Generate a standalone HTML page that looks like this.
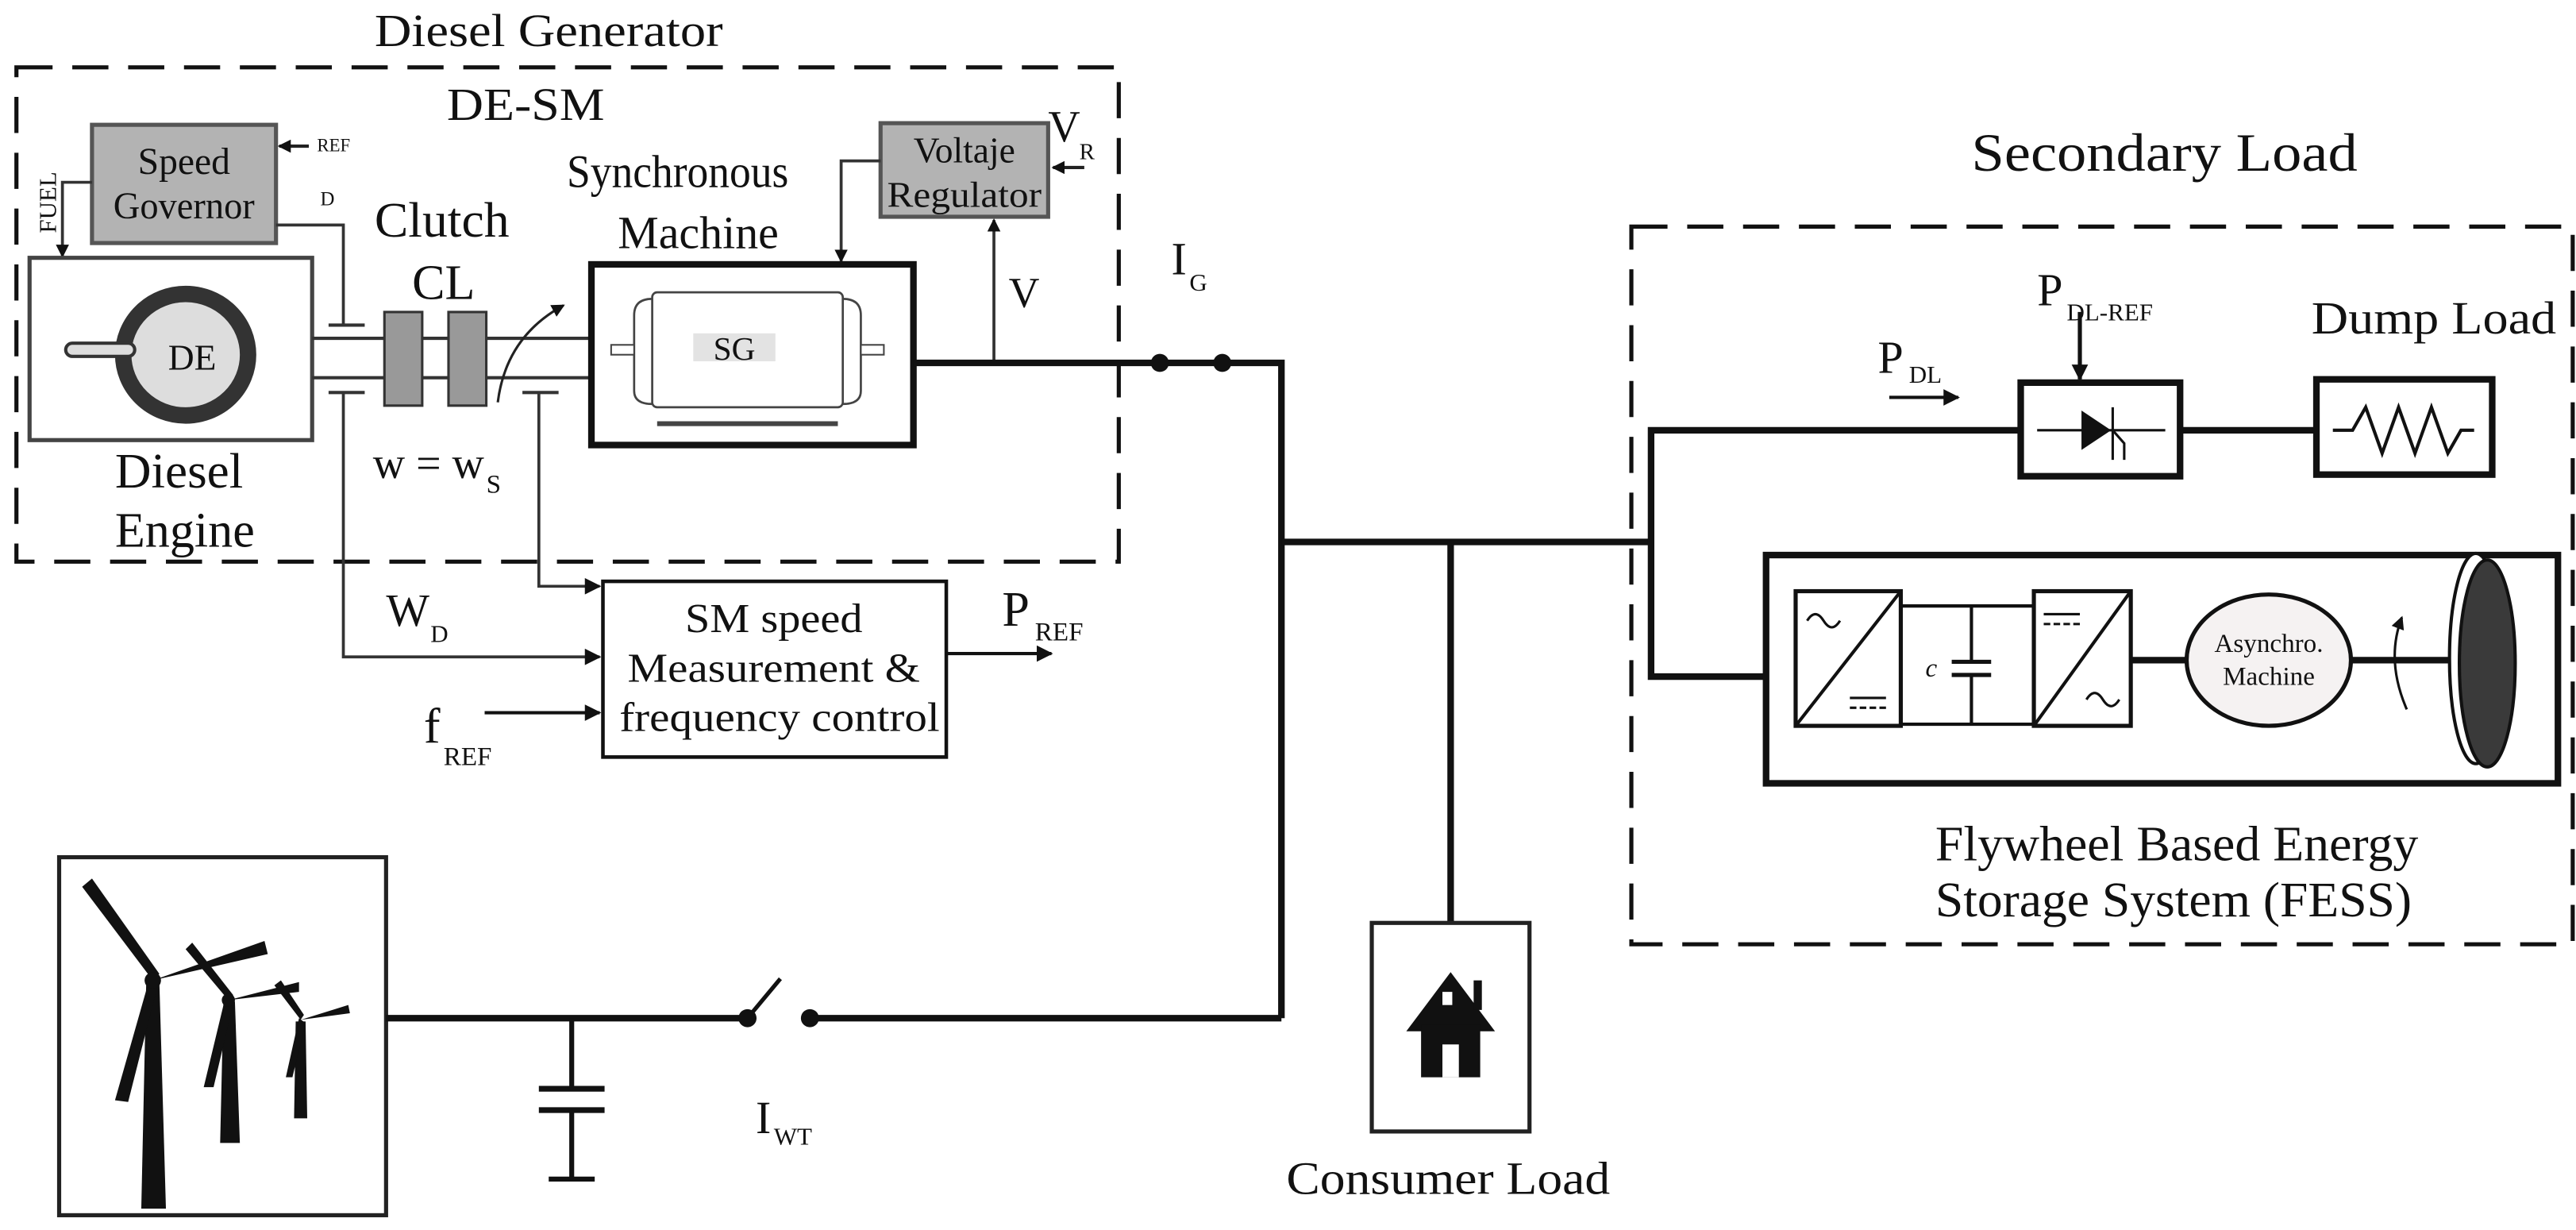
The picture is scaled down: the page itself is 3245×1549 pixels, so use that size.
<!DOCTYPE html>
<html><head><meta charset="utf-8"><style>
html,body{margin:0;padding:0;background:#fff}
svg{display:block}
text{font-family:"Liberation Serif",serif;fill:#111}
</style></head><body>
<svg width="3245" height="1549" viewBox="0 0 1568 749" preserveAspectRatio="none" xmlns="http://www.w3.org/2000/svg">
<defs>
<marker id="a" markerWidth="8" markerHeight="8" refX="7" refY="4" orient="auto" markerUnits="userSpaceOnUse"><path d="M0,0 L8,4 L0,8 Z" fill="#111"/></marker>
<marker id="b" markerWidth="10" markerHeight="10" refX="9" refY="5" orient="auto" markerUnits="userSpaceOnUse"><path d="M0,0 L10,5 L0,10 Z" fill="#111"/></marker>
</defs>
<!-- dashed boxes -->
<rect x="10" y="41" width="671" height="301" fill="none" stroke="#111" stroke-width="2.5" stroke-dasharray="22 12"/>
<rect x="993" y="138" width="573" height="437" fill="none" stroke="#111" stroke-width="2.5" stroke-dasharray="22 12"/>
<text x="228" y="28" font-size="28" textLength="212" lengthAdjust="spacingAndGlyphs">Diesel Generator</text>
<text x="272" y="73" font-size="28" textLength="96" lengthAdjust="spacingAndGlyphs">DE-SM</text>
<text x="1200" y="104" font-size="33" textLength="235" lengthAdjust="spacingAndGlyphs">Secondary Load</text>

<!-- speed governor -->
<rect x="56" y="76" width="112" height="72" fill="#b3b3b3" stroke="#555" stroke-width="2.5"/>
<text x="112" y="106" font-size="23" text-anchor="middle">Speed</text>
<text x="69" y="133" font-size="23" textLength="86" lengthAdjust="spacingAndGlyphs">Governor</text>
<text x="193" y="92" font-size="11">REF</text>
<line x1="188" y1="89" x2="170" y2="89" stroke="#222" stroke-width="2" marker-end="url(#a)"/>
<text x="195" y="125" font-size="12">D</text>
<polyline points="168,137 209,137 209,198" fill="none" stroke="#333" stroke-width="1.8"/>
<line x1="200" y1="198" x2="222" y2="198" stroke="#333" stroke-width="2"/>
<text x="0" y="0" font-size="15" transform="translate(34,142) rotate(-90)">FUEL</text>
<polyline points="56,111 38,111 38,156" fill="none" stroke="#333" stroke-width="1.8" marker-end="url(#a)"/>

<!-- diesel engine -->
<rect x="18" y="157" width="172" height="111" fill="#fff" stroke="#444" stroke-width="2.5"/>
<ellipse cx="113" cy="216" rx="38" ry="37" fill="#ddd" stroke="#333" stroke-width="10"/>
<rect x="40" y="209" width="42" height="8" rx="4" fill="#ddd" stroke="#333" stroke-width="2"/>
<text x="117" y="225" font-size="22" text-anchor="middle">DE</text>
<text x="70" y="297" font-size="30" textLength="78" lengthAdjust="spacingAndGlyphs">Diesel</text>
<text x="70" y="333" font-size="30" textLength="85" lengthAdjust="spacingAndGlyphs">Engine</text>

<!-- shafts & clutch -->
<line x1="190" y1="206" x2="362" y2="206" stroke="#333" stroke-width="2"/>
<line x1="190" y1="230" x2="362" y2="230" stroke="#333" stroke-width="2"/>
<rect x="234" y="190" width="23" height="57" fill="#999" stroke="#333" stroke-width="1.5"/>
<rect x="273" y="190" width="23" height="57" fill="#999" stroke="#333" stroke-width="1.5"/>
<line x1="200" y1="239" x2="222" y2="239" stroke="#333" stroke-width="2"/>
<polyline points="209,239 209,400 365,400" fill="none" stroke="#333" stroke-width="1.8" marker-end="url(#b)"/>
<line x1="318" y1="239" x2="340" y2="239" stroke="#333" stroke-width="2"/>
<polyline points="328,239 328,357 365,357" fill="none" stroke="#333" stroke-width="1.8" marker-end="url(#b)"/>
<path d="M303,245 Q308,205 343,186" fill="none" stroke="#222" stroke-width="1.5" marker-end="url(#a)"/>
<text x="228" y="144" font-size="30" textLength="82" lengthAdjust="spacingAndGlyphs">Clutch</text>
<text x="270" y="182" font-size="30" text-anchor="middle">CL</text>
<text x="227" y="291" font-size="27">w = w</text>
<text x="296" y="300" font-size="16">S</text>
<text x="235" y="381" font-size="28">W</text>
<text x="262" y="391" font-size="15">D</text>

<!-- synchronous machine -->
<rect x="360" y="161" width="196" height="110" fill="#fff" stroke="#111" stroke-width="4"/>
<rect x="397" y="178" width="116" height="70" rx="3" fill="#fff" stroke="#444" stroke-width="1.3"/>
<path d="M397,182 Q386,182 386,192 L386,238 Q386,246 397,246" fill="none" stroke="#444" stroke-width="1.3"/>
<path d="M513,182 Q524,182 524,192 L524,238 Q524,246 513,246" fill="none" stroke="#444" stroke-width="1.3"/>
<rect x="372" y="210" width="14" height="6" fill="#fff" stroke="#444" stroke-width="1"/>
<rect x="524" y="210" width="14" height="6" fill="#fff" stroke="#444" stroke-width="1"/>
<line x1="400" y1="258" x2="510" y2="258" stroke="#444" stroke-width="3"/>
<rect x="422" y="203" width="50" height="17" fill="#e3e3e3"/>
<text x="447" y="219" font-size="20" text-anchor="middle">SG</text>
<text x="345" y="114" font-size="28" textLength="135" lengthAdjust="spacingAndGlyphs">Synchronous</text>
<text x="425" y="151" font-size="28" text-anchor="middle">Machine</text>

<!-- voltage regulator -->
<rect x="536" y="75" width="102" height="57" fill="#b3b3b3" stroke="#555" stroke-width="2.5"/>
<text x="587" y="99" font-size="22" text-anchor="middle">Voltaje</text>
<text x="540" y="126" font-size="22" textLength="94" lengthAdjust="spacingAndGlyphs">Regulator</text>
<text x="638" y="86" font-size="27">V</text>
<text x="657" y="97" font-size="14">R</text>
<line x1="660" y1="102" x2="641" y2="102" stroke="#222" stroke-width="2" marker-end="url(#a)"/>
<polyline points="536,98 512,98 512,159" fill="none" stroke="#333" stroke-width="1.8" marker-end="url(#a)"/>
<line x1="605" y1="221" x2="605" y2="134" stroke="#333" stroke-width="1.8" marker-end="url(#a)"/>
<text x="614" y="187" font-size="26">V</text>

<!-- main bus -->
<polyline points="556,221 780,221 780,620" fill="none" stroke="#111" stroke-width="4"/>
<circle cx="706" cy="221" r="5.5" fill="#111"/>
<circle cx="744" cy="221" r="5.5" fill="#111"/>
<text x="713" y="167" font-size="28">I</text>
<text x="724" y="177" font-size="15">G</text>
<line x1="780" y1="330" x2="1005" y2="330" stroke="#111" stroke-width="4"/>
<polyline points="1230,262 1005,262 1005,412 1075,412" fill="none" stroke="#111" stroke-width="4"/>
<line x1="883" y1="330" x2="883" y2="562" stroke="#111" stroke-width="4"/>

<!-- SM speed box -->
<rect x="367" y="354" width="209" height="107" fill="#fff" stroke="#111" stroke-width="2.2"/>
<text x="417" y="385" font-size="25" textLength="108" lengthAdjust="spacingAndGlyphs">SM speed</text>
<text x="382" y="415" font-size="25" textLength="178" lengthAdjust="spacingAndGlyphs">Measurement &amp;</text>
<text x="377" y="445" font-size="25" textLength="195" lengthAdjust="spacingAndGlyphs">frequency control</text>
<line x1="576" y1="398" x2="640" y2="398" stroke="#111" stroke-width="2" marker-end="url(#b)"/>
<text x="610" y="381" font-size="30">P</text>
<text x="630" y="390" font-size="16">REF</text>
<line x1="295" y1="434" x2="365" y2="434" stroke="#111" stroke-width="2" marker-end="url(#b)"/>
<text x="258" y="452" font-size="30">f</text>
<text x="270" y="466" font-size="16">REF</text>

<!-- consumer load -->
<rect x="835" y="562" width="96" height="127" fill="#fff" stroke="#222" stroke-width="2.5"/>
<path d="M856,628 L883,592 L910,628 Z" fill="#111"/>
<rect x="865" y="624" width="36" height="32" fill="#111"/>
<rect x="878" y="636" width="10" height="20" fill="#fff"/>
<rect x="897" y="597" width="5" height="18" fill="#111"/>
<rect x="878" y="604" width="6" height="8" fill="#fff"/>
<text x="783" y="727" font-size="28" textLength="197" lengthAdjust="spacingAndGlyphs">Consumer Load</text>

<!-- dump load branch -->
<rect x="1230" y="233" width="97" height="57" fill="#fff" stroke="#111" stroke-width="4"/>
<line x1="1240" y1="262" x2="1318" y2="262" stroke="#111" stroke-width="1.5"/>
<path d="M1267,250 L1285,262 L1267,274 Z" fill="#111"/>
<line x1="1286" y1="248" x2="1286" y2="280" stroke="#111" stroke-width="1.5"/>
<polyline points="1286,262 1293,270 1293,280" fill="none" stroke="#111" stroke-width="1.5"/>
<line x1="1266" y1="190" x2="1266" y2="231" stroke="#111" stroke-width="2.5" marker-end="url(#b)"/>
<text x="1240" y="186" font-size="28">P</text>
<text x="1258" y="195" font-size="15">DL-REF</text>
<line x1="1150" y1="242" x2="1192" y2="242" stroke="#111" stroke-width="2" marker-end="url(#b)"/>
<text x="1143" y="227" font-size="28">P</text>
<text x="1162" y="233" font-size="15">DL</text>
<line x1="1327" y1="262" x2="1410" y2="262" stroke="#111" stroke-width="4"/>
<rect x="1410" y="231" width="107" height="58" fill="#fff" stroke="#111" stroke-width="4"/>
<polyline points="1420,262 1432,262 1440,248 1450,276 1460,248 1470,276 1480,248 1490,276 1498,262 1506,262" fill="none" stroke="#111" stroke-width="2"/>
<text x="1407" y="203" font-size="28" textLength="149" lengthAdjust="spacingAndGlyphs">Dump Load</text>

<!-- FESS -->
<rect x="1075" y="338" width="482" height="139" fill="#fff" stroke="#111" stroke-width="4"/>
<rect x="1093" y="360" width="64" height="82" fill="#fff" stroke="#111" stroke-width="2.5"/>
<line x1="1093" y1="442" x2="1157" y2="360" stroke="#111" stroke-width="2"/>
<path d="M1100,378 q5,-8 10,0 t10,0" fill="none" stroke="#111" stroke-width="1.5"/>
<line x1="1126" y1="425" x2="1148" y2="425" stroke="#111" stroke-width="1.5"/>
<line x1="1126" y1="431" x2="1148" y2="431" stroke="#111" stroke-width="1.5" stroke-dasharray="4 2"/>
<line x1="1157" y1="369" x2="1238" y2="369" stroke="#111" stroke-width="2"/>
<line x1="1157" y1="441" x2="1238" y2="441" stroke="#111" stroke-width="2"/>
<line x1="1200" y1="369" x2="1200" y2="403" stroke="#111" stroke-width="2"/>
<line x1="1200" y1="411" x2="1200" y2="441" stroke="#111" stroke-width="2"/>
<line x1="1188" y1="403" x2="1212" y2="403" stroke="#111" stroke-width="2.5"/>
<line x1="1188" y1="411" x2="1212" y2="411" stroke="#111" stroke-width="2.5"/>
<text x="1172" y="412" font-size="16" font-style="italic">c</text>
<rect x="1238" y="360" width="59" height="82" fill="#fff" stroke="#111" stroke-width="2.5"/>
<line x1="1238" y1="442" x2="1297" y2="360" stroke="#111" stroke-width="2"/>
<line x1="1244" y1="374" x2="1266" y2="374" stroke="#111" stroke-width="1.5"/>
<line x1="1244" y1="380" x2="1266" y2="380" stroke="#111" stroke-width="1.5" stroke-dasharray="4 2"/>
<path d="M1270,426 q5,-8 10,0 t10,0" fill="none" stroke="#111" stroke-width="1.5"/>
<line x1="1297" y1="402" x2="1332" y2="402" stroke="#111" stroke-width="4"/>
<ellipse cx="1381" cy="402" rx="50" ry="40" fill="#f5f2f2" stroke="#111" stroke-width="2.5"/>
<text x="1381" y="397" font-size="16" text-anchor="middle">Asynchro.</text>
<text x="1381" y="417" font-size="16" text-anchor="middle">Machine</text>
<line x1="1431" y1="402" x2="1500" y2="402" stroke="#111" stroke-width="4"/>
<path d="M1465,432 Q1452,402 1462,376" fill="none" stroke="#111" stroke-width="1.5" marker-end="url(#a)"/>
<ellipse cx="1507" cy="401" rx="16" ry="64" fill="#fff" stroke="#111" stroke-width="2"/>
<ellipse cx="1514" cy="404" rx="17" ry="63" fill="#3a3a3a" stroke="#111" stroke-width="2"/>
<text x="1178" y="524" font-size="30" textLength="294" lengthAdjust="spacingAndGlyphs">Flywheel Based Energy</text>
<text x="1178" y="558" font-size="30" textLength="290" lengthAdjust="spacingAndGlyphs">Storage System (FESS)</text>

<!-- wind turbines -->
<rect x="36" y="522" width="199" height="218" fill="#fff" stroke="#222" stroke-width="2.5"/>
<g fill="#111">
<path d="M89,598 L97,598 L101,736 L86,736 Z"/>
<path d="M93,597 L50,540 L56,535 L97,593 Z"/>
<path d="M93,597 L161,573 L163,581 Z"/>
<path d="M91,596 L70,670 L78,671 L96,600 Z"/>
<circle cx="93" cy="597" r="5"/>
<path d="M136,610 L143,610 L146,696 L134,696 Z"/>
<path d="M139,609 L113,578 L117,574 L142,606 Z"/>
<path d="M139,609 L182,598 L182,604 Z"/>
<path d="M137,608 L124,662 L130,662 L142,611 Z"/>
<circle cx="139" cy="609" r="4"/>
<path d="M180,622 L186,622 L187,681 L179,681 Z"/>
<path d="M183,621 L167,600 L171,597 L185,618 Z"/>
<path d="M183,621 L212,612 L213,617 Z"/>
<path d="M182,620 L174,656 L178,656 L186,623 Z"/>
</g>
<line x1="235" y1="620" x2="455" y2="620" stroke="#111" stroke-width="4"/>
<circle cx="455" cy="620" r="5.5" fill="#111"/>
<circle cx="493" cy="620" r="5.5" fill="#111"/>
<line x1="455" y1="620" x2="475" y2="596" stroke="#111" stroke-width="2.5"/>
<line x1="493" y1="620" x2="780" y2="620" stroke="#111" stroke-width="4"/>
<line x1="348" y1="620" x2="348" y2="662" stroke="#111" stroke-width="3"/>
<line x1="328" y1="663" x2="368" y2="663" stroke="#111" stroke-width="3.5"/>
<line x1="328" y1="676" x2="368" y2="676" stroke="#111" stroke-width="3.5"/>
<line x1="348" y1="676" x2="348" y2="718" stroke="#111" stroke-width="3"/>
<line x1="334" y1="718" x2="362" y2="718" stroke="#111" stroke-width="3"/>
<text x="460" y="690" font-size="28">I</text>
<text x="471" y="697" font-size="15">WT</text>
</svg>
</body></html>
